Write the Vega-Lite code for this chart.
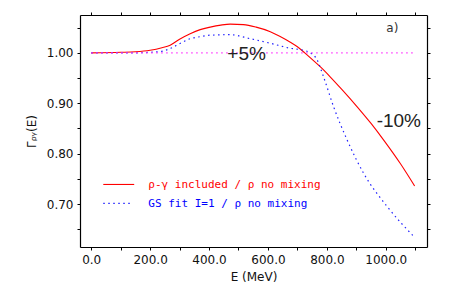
{
  "$schema": "https://vega.github.io/schema/vega-lite/v6.json",
  "width": 347,
  "height": 232,
  "autosize": {"type": "none"},
  "padding": {"left": 80, "top": 15, "right": 32, "bottom": 54},
  "background": "white",
  "config": {
    "view": {"stroke": null},
    "axis": {
      "grid": false,
      "domainColor": "#000000",
      "domainWidth": 1.2,
      "tickColor": "#000000",
      "tickSize": 3,
      "labelFont": "DejaVu Sans",
      "labelFontSize": 12,
      "labelColor": "#111111",
      "titleFont": "DejaVu Sans",
      "titleFontSize": 12,
      "titleFontWeight": "normal",
      "titleColor": "#111111"
    }
  },
  "datasets": {
    "curves": [
      {"s": "red", "E": 0, "v": 1.0},
      {"s": "red", "E": 100, "v": 1.001},
      {"s": "red", "E": 150, "v": 1.002},
      {"s": "red", "E": 200, "v": 1.005},
      {"s": "red", "E": 240, "v": 1.01},
      {"s": "red", "E": 268, "v": 1.015},
      {"s": "red", "E": 300, "v": 1.027},
      {"s": "red", "E": 336, "v": 1.038},
      {"s": "red", "E": 370, "v": 1.046},
      {"s": "red", "E": 404, "v": 1.051},
      {"s": "red", "E": 440, "v": 1.055},
      {"s": "red", "E": 472, "v": 1.057},
      {"s": "red", "E": 517, "v": 1.056},
      {"s": "red", "E": 560, "v": 1.051},
      {"s": "red", "E": 608, "v": 1.042},
      {"s": "red", "E": 640, "v": 1.033},
      {"s": "red", "E": 676, "v": 1.021},
      {"s": "red", "E": 700, "v": 1.012},
      {"s": "red", "E": 725, "v": 1.0},
      {"s": "red", "E": 750, "v": 0.987},
      {"s": "red", "E": 780, "v": 0.971},
      {"s": "red", "E": 812, "v": 0.952},
      {"s": "red", "E": 850, "v": 0.928},
      {"s": "red", "E": 903, "v": 0.893},
      {"s": "red", "E": 950, "v": 0.86},
      {"s": "red", "E": 993, "v": 0.827},
      {"s": "red", "E": 1050, "v": 0.78},
      {"s": "red", "E": 1098, "v": 0.736},
      {"s": "blue", "E": 0, "v": 1.0},
      {"s": "blue", "E": 150, "v": 1.0},
      {"s": "blue", "E": 200, "v": 1.001},
      {"s": "blue", "E": 240, "v": 1.003},
      {"s": "blue", "E": 270, "v": 1.009},
      {"s": "blue", "E": 300, "v": 1.018},
      {"s": "blue", "E": 336, "v": 1.028},
      {"s": "blue", "E": 370, "v": 1.032},
      {"s": "blue", "E": 404, "v": 1.035},
      {"s": "blue", "E": 472, "v": 1.036},
      {"s": "blue", "E": 540, "v": 1.028},
      {"s": "blue", "E": 608, "v": 1.019},
      {"s": "blue", "E": 676, "v": 1.009},
      {"s": "blue", "E": 721, "v": 1.005},
      {"s": "blue", "E": 744, "v": 1.0},
      {"s": "blue", "E": 767, "v": 0.986},
      {"s": "blue", "E": 789, "v": 0.952},
      {"s": "blue", "E": 823, "v": 0.893},
      {"s": "blue", "E": 869, "v": 0.827},
      {"s": "blue", "E": 925, "v": 0.761},
      {"s": "blue", "E": 1005, "v": 0.695},
      {"s": "blue", "E": 1100, "v": 0.633},
      {"s": "mag", "E": 0, "v": 1.0},
      {"s": "mag", "E": 1100, "v": 1.0},
      {"s": "legred", "E": 41, "v": 0.739},
      {"s": "legred", "E": 146, "v": 0.739},
      {"s": "legblue", "E": 41, "v": 0.7014},
      {"s": "legblue", "E": 137, "v": 0.7014}
    ],
    "bigtext": [
      {"t": "+5%", "E": 462, "v": 0.9855},
      {"t": "-10%", "E": 969, "v": 0.8533}
    ],
    "smalltext": [
      {"t": "a)", "E": 1002, "v": 1.0416}
    ],
    "legtext": [
      {"t": "ρ-γ included / ρ no mixing", "E": 194, "v": 0.7377, "c": "red"},
      {"t": "GS fit I=1 / ρ no mixing", "E": 194, "v": 0.701, "c": "blue"}
    ]
  },
  "layer": [
    {
      "data": {"name": "curves"},
      "transform": [{"filter": "datum.s === 'red' || datum.s === 'legred'"}],
      "mark": {"type": "line", "color": "#ff0000", "strokeWidth": 1.1, "interpolate": "monotone"},
      "encoding": {
        "x": {"field": "E", "type": "quantitative", "scale": {"domain": [-38, 1140], "nice": false, "zero": false},
          "axis": {"orient": "bottom", "values": [0,100,200,300,400,500,600,700,800,900,1000,1100],
            "labelExpr": "datum.value % 200 == 0 ? format(datum.value, '.1f') : ''",
            "title": "E (MeV)", "labelPadding": 4, "titlePadding": 6}},
        "y": {"field": "v", "type": "quantitative", "scale": {"domain": [0.615, 1.075], "nice": false, "zero": false},
          "axis": {"orient": "left", "values": [0.65,0.7,0.75,0.8,0.85,0.9,0.95,1.0,1.05],
            "labelExpr": "round(datum.value*100) % 10 == 0 ? format(datum.value, '.2f') : ''",
            "title": "Γᵨᵧ(E)", "labelPadding": 4, "titlePadding": 8}},
        "detail": {"field": "s"}
      }
    },
    {
      "data": {"name": "curves"},
      "transform": [{"filter": "datum.s === 'blue' || datum.s === 'legblue'"}],
      "mark": {"type": "line", "color": "#2020ff", "strokeWidth": 1.2, "strokeDash": [1.5, 3.5], "interpolate": "monotone"},
      "encoding": {
        "x": {"field": "E", "type": "quantitative",
          "axis": {"orient": "top", "values": [0,100,200,300,400,500,600,700,800,900,1000,1100], "labels": false, "title": null}},
        "y": {"field": "v", "type": "quantitative",
          "axis": {"orient": "right", "values": [0.65,0.7,0.75,0.8,0.85,0.9,0.95,1.0,1.05], "labels": false, "title": null}},
        "detail": {"field": "s"}
      }
    },
    {
      "data": {"name": "curves"},
      "transform": [{"filter": "datum.s === 'mag'"}],
      "mark": {"type": "line", "color": "#ff33ff", "strokeWidth": 1.2, "strokeDash": [1.5, 3.5]},
      "encoding": {
        "x": {"field": "E", "type": "quantitative", "axis": null},
        "y": {"field": "v", "type": "quantitative", "axis": null}
      }
    },
    {
      "data": {"name": "bigtext"},
      "mark": {"type": "text", "font": "Liberation Sans", "fontSize": 19, "align": "left", "baseline": "alphabetic", "color": "#222222"},
      "encoding": {
        "x": {"field": "E", "type": "quantitative", "axis": null},
        "y": {"field": "v", "type": "quantitative", "axis": null},
        "text": {"field": "t"}
      }
    },
    {
      "data": {"name": "smalltext"},
      "mark": {"type": "text", "font": "DejaVu Sans", "fontSize": 12, "align": "left", "baseline": "alphabetic", "color": "#333333"},
      "encoding": {
        "x": {"field": "E", "type": "quantitative", "axis": null},
        "y": {"field": "v", "type": "quantitative", "axis": null},
        "text": {"field": "t"}
      }
    },
    {
      "data": {"name": "legtext"},
      "mark": {"type": "text", "font": "DejaVu Sans Mono", "fontSize": 11, "align": "left", "baseline": "middle"},
      "encoding": {
        "x": {"field": "E", "type": "quantitative", "axis": null},
        "y": {"field": "v", "type": "quantitative", "axis": null},
        "text": {"field": "t"},
        "color": {"field": "c", "type": "nominal", "scale": {"domain": ["red", "blue"], "range": ["#ff0000", "#0000ff"]}, "legend": null}
      }
    }
  ],
  "resolve": {"axis": {"x": "independent", "y": "independent"}}
}
